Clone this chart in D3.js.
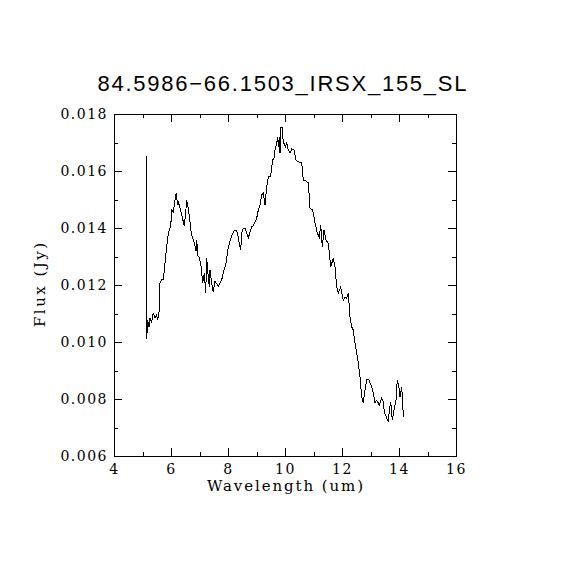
<!DOCTYPE html>
<html>
<head>
<meta charset="utf-8">
<script src="https://cdn.jsdelivr.net/npm/d3@7"></script>
<style>
  html, body { margin: 0; padding: 0; background: #fff; }
  svg { display: block; }
  .tick text { font-family: "DejaVu Serif", serif; font-size: 14px; letter-spacing: 1.5px; fill: #000; }
  .domain, .tick line { stroke: #000; stroke-width: 1; shape-rendering: crispEdges; }
</style>
</head>
<body>
<svg id="chart" width="570" height="570"></svg>
<script>
// spectrum: wavelength (um) and flux (Jy)
var wavelength = [
  5.123, 5.147, 5.182, 5.228, 5.263, 5.323, 5.379, 5.439, 5.498, 5.533,
  5.579, 5.614, 5.674, 5.730, 5.789, 5.849, 5.905, 5.965, 5.989, 6.025,
  6.081, 6.140, 6.186, 6.228, 6.256, 6.316, 6.375, 6.432, 6.467, 6.509,
  6.551, 6.607, 6.667, 6.719, 6.761, 6.818, 6.877, 6.905, 6.937, 6.993,
  7.053, 7.112, 7.168, 7.218, 7.253, 7.309, 7.344, 7.368, 7.428, 7.484,
  7.544, 7.604, 7.660, 7.719, 7.779, 7.835, 7.930, 8.011, 8.070, 8.130,
  8.186, 8.246, 8.305, 8.351, 8.386, 8.446, 8.481, 8.537, 8.596, 8.656,
  8.712, 8.772, 8.832, 8.888, 8.947, 9.007, 9.063, 9.123, 9.182, 9.239,
  9.298, 9.358, 9.414, 9.498, 9.568, 9.625, 9.649, 9.709, 9.744, 9.765,
  9.800, 9.825, 9.860, 9.905, 9.940, 9.975, 10.011, 10.060, 10.116, 10.175,
  10.235, 10.316, 10.386, 10.467, 10.586, 10.642, 10.702, 10.818, 10.877, 10.972,
  11.053, 11.133, 11.204, 11.253, 11.309, 11.368, 11.439, 11.519, 11.604, 11.695,
  11.754, 11.814, 11.870, 11.954, 12.046, 12.105, 12.165, 12.221, 12.281, 12.340,
  12.396, 12.456, 12.516, 12.572, 12.632, 12.691, 12.747, 12.807, 12.867, 12.947,
  13.042, 13.098, 13.158, 13.218, 13.309, 13.393, 13.449, 13.484, 13.568, 13.625,
  13.660, 13.709, 13.765, 13.825, 13.895, 13.940, 14.011, 14.035, 14.095, 14.130,
  14.151
];
var flux = [
  0.01653, 0.01011, 0.01077, 0.01053, 0.01084, 0.01070, 0.01102, 0.01084, 0.01095, 0.01077,
  0.01105, 0.01207, 0.01218, 0.01218, 0.01277, 0.01333, 0.01382, 0.01400, 0.01404, 0.01463,
  0.01456, 0.01498, 0.01523, 0.01481, 0.01491, 0.01470, 0.01449, 0.01421, 0.01407, 0.01446,
  0.01498, 0.01470, 0.01421, 0.01375, 0.01365, 0.01347, 0.01319, 0.01358, 0.01302, 0.01298,
  0.01267, 0.01207, 0.01242, 0.01172, 0.01295, 0.01225, 0.01193, 0.01253, 0.01207, 0.01175,
  0.01214, 0.01204, 0.01196, 0.01207, 0.01218, 0.01242, 0.01277, 0.01333, 0.01354, 0.01372,
  0.01386, 0.01393, 0.01389, 0.01372, 0.01351, 0.01323, 0.01382, 0.01400, 0.01400, 0.01382,
  0.01365, 0.01386, 0.01404, 0.01407, 0.01421, 0.01435, 0.01463, 0.01481, 0.01516, 0.01523,
  0.01481, 0.01544, 0.01579, 0.01582, 0.01639, 0.01646, 0.01674, 0.01698, 0.01719, 0.01684,
  0.01719, 0.01663, 0.01754, 0.01754, 0.01698, 0.01698, 0.01684, 0.01698, 0.01674, 0.01663,
  0.01677, 0.01674, 0.01639, 0.01632, 0.01628, 0.01568, 0.01568, 0.01558, 0.01470, 0.01463,
  0.01418, 0.01382, 0.01368, 0.01411, 0.01333, 0.01393, 0.01358, 0.01347, 0.01263, 0.01295,
  0.01263, 0.01193, 0.01172, 0.01193, 0.01147, 0.01158, 0.01154, 0.01172, 0.01088, 0.01053,
  0.01042, 0.00996, 0.00961, 0.00926, 0.00877, 0.00807, 0.00786, 0.00832, 0.00867, 0.00867,
  0.00842, 0.00821, 0.00786, 0.00796, 0.00779, 0.00804, 0.00789, 0.00754, 0.00733, 0.00719,
  0.00761, 0.00789, 0.00726, 0.00761, 0.00796, 0.00867, 0.00832, 0.00807, 0.00842, 0.00786,
  0.00737
];
var xTicks = [4, 6, 8, 10, 12, 14, 16];
var xMinorTicks = [5, 7, 9, 11, 13, 15];
var yTicks = [0.006, 0.008, 0.010, 0.012, 0.014, 0.016, 0.018];
var yMinorTicks = [0.007, 0.009, 0.011, 0.013, 0.015, 0.017];
var titleText = "84.5986\u221266.1503_IRSX_155_SL";
var xLabel = "Wavelength (um)";
var yLabel = "Flux (Jy)";

(function () {
    var svg = d3.select("#chart");

    // plot frame in pixels
    var frameL = 114, frameR = 456, frameT = 114, frameB = 456;

    var x = d3.scaleLinear().domain([4, 16]).range([frameL, frameR]);
    var y = d3.scaleLinear().domain([0.006, 0.018]).range([frameB, frameT]);

    // bottom axis with labels, ticks pointing inward
    svg.append("g")
        .attr("transform", "translate(0," + frameB + ")")
        .call(d3.axisBottom(x).tickValues(xTicks).tickFormat(d3.format("d"))
            .tickSizeInner(-8).tickSizeOuter(0).tickPadding(8));
    svg.append("g")
        .attr("transform", "translate(0," + frameB + ")")
        .call(d3.axisBottom(x).tickValues(xMinorTicks).tickFormat("")
            .tickSizeInner(-4).tickSizeOuter(0));

    // top axis, ticks only
    svg.append("g")
        .attr("transform", "translate(0," + frameT + ")")
        .call(d3.axisTop(x).tickValues(xTicks).tickFormat("")
            .tickSizeInner(-8).tickSizeOuter(0));
    svg.append("g")
        .attr("transform", "translate(0," + frameT + ")")
        .call(d3.axisTop(x).tickValues(xMinorTicks).tickFormat("")
            .tickSizeInner(-4).tickSizeOuter(0));

    // left axis with labels
    svg.append("g")
        .attr("transform", "translate(" + frameL + ",0)")
        .call(d3.axisLeft(y).tickValues(yTicks).tickFormat(d3.format(".3f"))
            .tickSizeInner(-8).tickSizeOuter(0).tickPadding(6));
    svg.append("g")
        .attr("transform", "translate(" + frameL + ",0)")
        .call(d3.axisLeft(y).tickValues(yMinorTicks).tickFormat("")
            .tickSizeInner(-4).tickSizeOuter(0));

    // right axis, ticks only
    svg.append("g")
        .attr("transform", "translate(" + frameR + ",0)")
        .call(d3.axisRight(y).tickValues(yTicks).tickFormat("")
            .tickSizeInner(-8).tickSizeOuter(0));
    svg.append("g")
        .attr("transform", "translate(" + frameR + ",0)")
        .call(d3.axisRight(y).tickValues(yMinorTicks).tickFormat("")
            .tickSizeInner(-4).tickSizeOuter(0));

    // spectrum
    var points = wavelength.map(function (w, i) { return [w, flux[i]]; });
    var line = d3.line()
        .x(function (d) { return x(d[0]); })
        .y(function (d) { return y(d[1]); });

    svg.append("path")
        .datum(points)
        .attr("d", line)
        .attr("fill", "none")
        .attr("stroke", "#000")
        .attr("stroke-width", 1)
        .attr("stroke-linejoin", "miter")
        .attr("shape-rendering", "crispEdges");

    // title and axis labels
    svg.append("text")
        .attr("x", 282)
        .attr("y", 91)
        .attr("text-anchor", "middle")
        .attr("font-family", "Liberation Sans, sans-serif")
        .attr("font-size", 22)
        .attr("textLength", 369)
        .attr("lengthAdjust", "spacing")
        .text(titleText);

    svg.append("text")
        .attr("x", 285)
        .attr("y", 491)
        .attr("text-anchor", "middle")
        .attr("font-family", "DejaVu Serif, serif")
        .attr("font-size", 15)
        .attr("textLength", 156)
        .attr("lengthAdjust", "spacing")
        .text(xLabel);

    svg.append("text")
        .attr("transform", "translate(45,285) rotate(-90)")
        .attr("text-anchor", "middle")
        .attr("font-family", "DejaVu Serif, serif")
        .attr("font-size", 15)
        .attr("textLength", 84)
        .attr("lengthAdjust", "spacing")
        .text(yLabel);
})();
</script>
</body>
</html>
